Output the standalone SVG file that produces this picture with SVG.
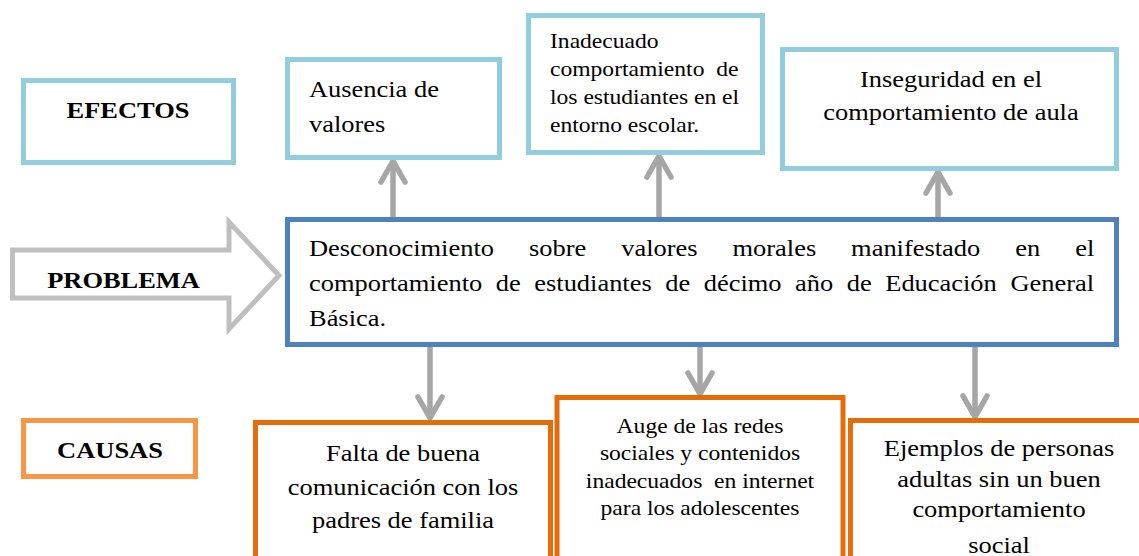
<svg xmlns="http://www.w3.org/2000/svg" width="1139" height="556" viewBox="0 0 1139 556">
<style>
.t{font-family:"Liberation Serif","Times New Roman",serif;fill:#000;font-size:23px}
.s{font-size:20.5px}
.b{font-weight:bold}
.eff{fill:#fff;stroke:#93CDDD;stroke-width:5}
.prob{fill:#fff;stroke:#4F81BD;stroke-width:5}
.cau{fill:#fff;stroke:#E46C0A;stroke-width:5}
.conn{stroke:#A6A6A6;stroke-width:5.5;fill:none}
</style>
<defs>
<marker id="head" markerUnits="userSpaceOnUse" markerWidth="30" markerHeight="30" refX="0" refY="0" orient="auto" overflow="visible">
<path d="M-21,-12 L0,0 L-21,12" fill="none" stroke="#A6A6A6" stroke-width="5.5" stroke-linecap="round" stroke-linejoin="round"/>
</marker>
</defs>
<rect width="1139" height="556" fill="#fff"/>

<g id="connectors">
<line class="conn" x1="393" y1="217" x2="393" y2="161" marker-end="url(#head)"/>
<line class="conn" x1="659" y1="217" x2="659" y2="156" marker-end="url(#head)"/>
<line class="conn" x1="938" y1="217" x2="938" y2="172" marker-end="url(#head)"/>
<line class="conn" x1="430" y1="347" x2="430" y2="418" marker-end="url(#head)"/>
<line class="conn" x1="700" y1="347" x2="700" y2="394" marker-end="url(#head)"/>
<line class="conn" x1="975" y1="347" x2="975" y2="417" marker-end="url(#head)"/>
</g>

<g id="efectos">
<rect class="eff" x="23.5" y="80.5" width="210" height="82"/>
<text class="t b" text-anchor="middle" transform="translate(128,0) scale(1.15,1)" x="0" y="118">EFECTOS</text>
</g>

<g id="efecto1">
<rect class="eff" x="287.5" y="59.5" width="212" height="98"/>
<text class="t" transform="translate(309,0) scale(1.15,1)"><tspan x="0" y="97">Ausencia de</tspan><tspan x="0" y="132">valores</tspan></text>
</g>

<g id="efecto2">
<rect class="eff" x="528.5" y="15.5" width="234" height="137"/>
<text class="t s" transform="translate(550,0) scale(1.15,1)"><tspan x="0" y="48">Inadecuado</tspan><tspan x="0" y="76">comportamiento&#160; de</tspan><tspan x="0" y="104">los estudiantes en el</tspan><tspan x="0" y="132">entorno escolar.</tspan></text>
</g>

<g id="efecto3">
<rect class="eff" x="782.5" y="49.5" width="334" height="119"/>
<text class="t" text-anchor="middle" transform="translate(951,0) scale(1.15,1)"><tspan x="0" y="87">Inseguridad en el</tspan><tspan x="0" y="120">comportamiento de aula</tspan></text>
</g>

<g id="problema-label">
<polygon points="12.5,250 229,250 229,222 279,275.5 229,329 229,298 12.5,298" fill="#fff" stroke="#BFBFBF" stroke-width="5"/>
<text class="t b" text-anchor="middle" transform="translate(123.5,0) scale(1.15,1)" x="0" y="288">PROBLEMA</text>
</g>

<g id="problema">
<rect class="prob" x="287.5" y="219.5" width="829" height="125"/>
<text class="t" transform="translate(309,0) scale(1.15,1)"><tspan x="0" y="256">Desconocimiento</tspan><tspan x="191.3" y="256">sobre</tspan><tspan x="271.5" y="256">valores</tspan><tspan x="368.3" y="256">morales</tspan><tspan x="471.4" y="256">manifestado</tspan><tspan x="614.2" y="256">en</tspan><tspan x="666.3" y="256">el</tspan><tspan x="0" y="291">comportamiento</tspan><tspan x="162.5" y="291">de</tspan><tspan x="195.9" y="291">estudiantes</tspan><tspan x="309.8" y="291">de</tspan><tspan x="343.3" y="291">décimo</tspan><tspan x="422.7" y="291">año</tspan><tspan x="467.7" y="291">de</tspan><tspan x="501.1" y="291">Educación</tspan><tspan x="609.9" y="291">General</tspan><tspan x="0" y="326">Básica.</tspan></text>
</g>

<g id="causas">
<rect x="23.5" y="420.5" width="172" height="56" fill="#fff" stroke="#F79646" stroke-width="5"/>
<text class="t b" text-anchor="middle" transform="translate(110,0) scale(1.15,1)" x="0" y="458">CAUSAS</text>
</g>

<g id="causa1">
<rect class="cau" x="255.5" y="422.5" width="295" height="200"/>
<text class="t" text-anchor="middle" transform="translate(403,0) scale(1.15,1)"><tspan x="0" y="461">Falta de buena</tspan><tspan x="0" y="495">comunicación con los</tspan><tspan x="0" y="528">padres de familia</tspan></text>
</g>

<g id="causa2">
<rect class="cau" x="557" y="397.5" width="286" height="200"/>
<text class="t s" text-anchor="middle" transform="translate(700,0) scale(1.15,1)"><tspan x="0" y="433">Auge de las redes</tspan><tspan x="0" y="460">sociales y contenidos</tspan><tspan x="0" y="488">inadecuados&#160; en internet</tspan><tspan x="0" y="515">para los adolescentes</tspan></text>
</g>

<g id="causa3">
<rect class="cau" x="850.5" y="420.5" width="320" height="200"/>
<text class="t" text-anchor="middle" transform="translate(999,0) scale(1.15,1)"><tspan x="0" y="456">Ejemplos de personas</tspan><tspan x="0" y="487">adultas sin un buen</tspan><tspan x="0" y="517">comportamiento</tspan><tspan x="0" y="553">social</tspan></text>
</g>
</svg>
